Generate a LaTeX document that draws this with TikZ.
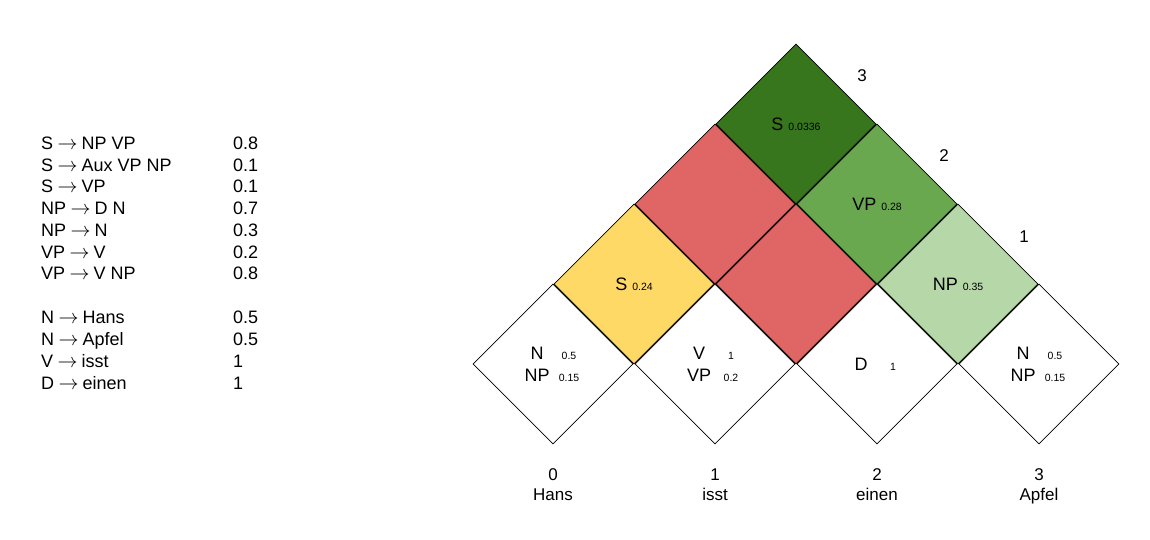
\documentclass[tikz,border=0pt]{standalone}
\usepackage{fontspec}
\setmainfont{Liberation Sans}
\usetikzlibrary{shapes.geometric}
\definecolor{cykyellow}{HTML}{FFD966}
\definecolor{cykred}{HTML}{E06666}
\definecolor{cykdark}{HTML}{38761D}
\definecolor{cykmid}{HTML}{6AA84F}
\definecolor{cyklight}{HTML}{B6D7A8}
\tikzset{
	cell/.style={
		% The shape:
		diamond,aspect=1,minimum size=160pt,inner sep=0pt,
		% The border:
		draw=black,line width=0.6pt,
		% The text:
		font=\fontsize{18}{22}\selectfont,align=center,
	}}
\tikzset{
	rule/.style={
		% grammar lines, placed by their baseline
		anchor=base west,inner sep=0pt,
		font=\fontsize{18}{21}\selectfont,
	}}
\tikzset{
	index/.style={
		anchor=base,inner sep=0pt,
		font=\fontsize{17}{20}\selectfont,
	}}
\newcommand{\prob}[1]{{\fontsize{10.5}{12}\selectfont #1}}
\newcommand{\entry}[2]{\makebox[32pt]{#1}\makebox[32pt]{\prob{#2}}}
\newcommand{\yields}{\hspace{4.5pt}\resizebox{20pt}{!}{$\rightarrow$}\hspace{4pt}}

\begin{document}
\begin{tikzpicture}[x=1pt,y=-1pt]
	\useasboundingbox (0,0) rectangle (1150,540);
	% the grammar
	\foreach \lhs/\p [count=\i from 0] in {S\yields NP VP/0.8,S\yields Aux VP NP/0.1,S\yields VP/0.1,NP\yields D N/0.7,NP\yields N/0.3,VP\yields V/0.2,VP\yields V NP/0.8}{
		\node[rule] (rule\i) at (41,149.5+21.7*\i) {\lhs};
		\node[rule] (prob\i) at (233,149.5+21.7*\i) {\p};
	}
	\foreach \lhs/\p [count=\i from 0] in {N\yields Hans/0.5,N\yields Apfel/0.5,V\yields isst/1,D\yields einen/1}{
		\node[rule] (lex\i) at (41,323.5+22*\i) {\lhs};
		\node[rule] (lexprob\i) at (233,323.5+22*\i) {\p};
	}
	% the chart
	\node[cell] (c01) at (553,364) {\entry{N}{0.5}\\\entry{NP}{0.15}};
	\node[cell] (c12) at (715,364) {\entry{V}{1}\\\entry{VP}{0.2}};
	\node[cell] (c23) at (877,364) {\entry{D}{1}};
	\node[cell] (c34) at (1039,364) {\entry{N}{0.5}\\\entry{NP}{0.15}};
	\node[cell,fill=cykyellow] (c02) at (634,284) {S \prob{0.24}};
	\node[cell,fill=cykred] (c13) at (796,284) {};
	\node[cell,fill=cyklight] (c24) at (958,284) {NP \prob{0.35}};
	\node[cell,fill=cykred] (c03) at (715,204) {};
	\node[cell,fill=cykmid] (c14) at (877,204) {VP \prob{0.28}};
	\node[cell,fill=cykdark] (c04) at (796,124) {S \prob{0.0336}};
	% span lengths
	\node[index] (len1) at (1024,242) {1};
	\node[index] (len2) at (944,162) {2};
	\node[index] (len3) at (862,82) {3};
	% positions and words
	\foreach \w [count=\i from 0] in {Hans,isst,einen,Apfel}{
		\node[index] (pos\i) at (553+162*\i,480) {\i};
		\node[index] (word\i) at (553+162*\i,500) {\w};
	}
\end{tikzpicture}
\end{document}
